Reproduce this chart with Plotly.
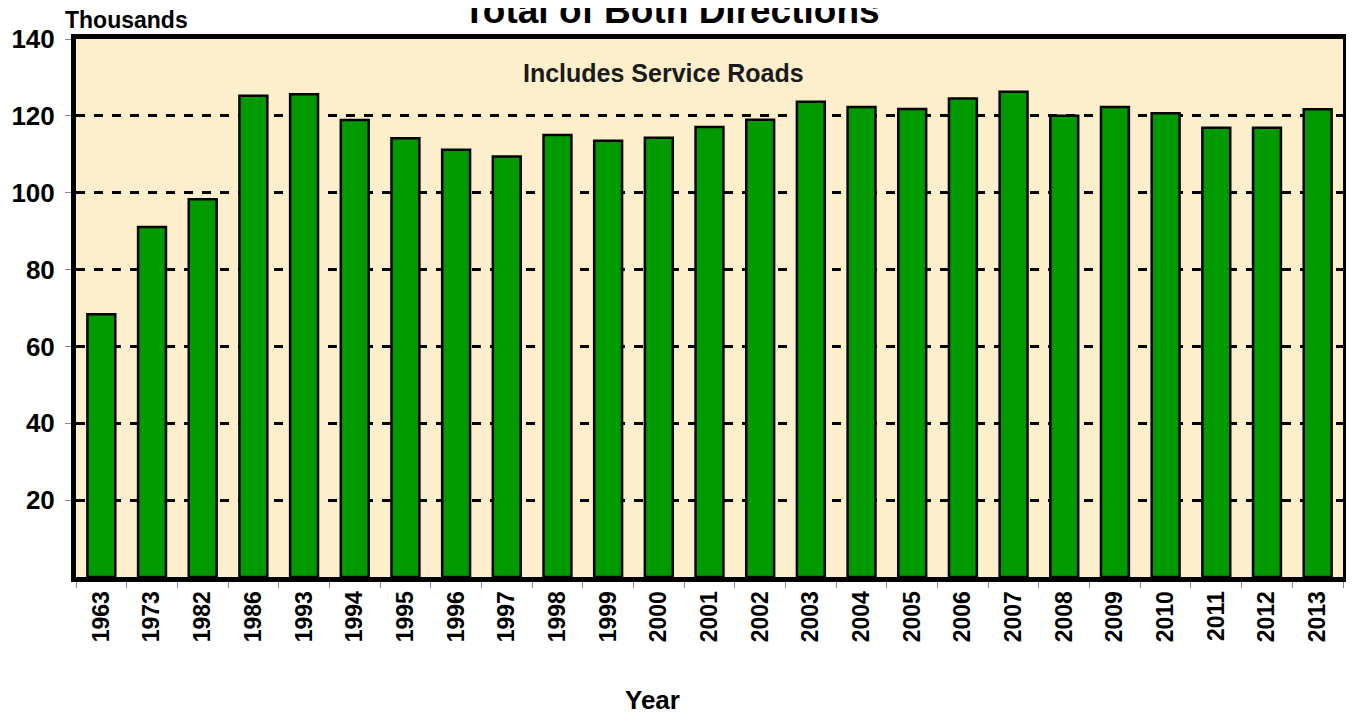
"""Total of Both Directions - traffic by year"""

import plotly.graph_objects as go

# Data
years = ["1963", "1973", "1982", "1986", "1993", "1994", "1995", "1996", "1997",
         "1998", "1999", "2000", "2001", "2002", "2003", "2004", "2005", "2006",
         "2007", "2008", "2009", "2010", "2011", "2012", "2013"]
totals = [68.4, 91.1, 98.3, 125.2, 125.6, 118.9, 114.2, 111.2, 109.4,
          115.0, 113.5, 114.3, 117.1, 119.0, 123.7, 122.3, 121.8, 124.5,
          126.3, 120.0, 122.3, 120.7, 116.9, 116.9, 121.7]
y_ticks = [20, 40, 60, 80, 100, 120, 140]

font_family = "Arial, Liberation Sans, sans-serif"

fig = go.Figure()

fig.add_trace(
    go.Bar(
        x=years,
        y=totals,
        marker=dict(color="#009900", line=dict(color="black", width=2.5)),
        hovertemplate="%{x}: %{y:.1f}<extra></extra>",
    )
)

# page body adds an 8px offset, margins compensate for it
fig.update_layout(
    width=1354,
    height=713,
    margin=dict(l=68, r=19, t=31, b=144),
    paper_bgcolor="white",
    plot_bgcolor="#FDEFCB",
    bargap=0.45,
    showlegend=False,
    font=dict(family=font_family, color="black"),
    xaxis=dict(
        type="category",
        automargin=False,
        tickangle=-90,
        tickfont=dict(size=23, family=font_family, weight="bold"),
        tickson="boundaries",
        ticks="outside",
        ticklen=6,
        tickcolor="#888888",
        showline=True,
        linecolor="black",
        linewidth=5,
        mirror=True,
        showgrid=False,
    ),
    yaxis=dict(
        range=[0, 140],
        automargin=False,
        tickvals=y_ticks,
        tickfont=dict(size=26, family=font_family, weight="bold"),
        ticklabelstandoff=5,
        ticks="outside",
        ticklen=6,
        tickcolor="#888888",
        showline=True,
        linecolor="black",
        linewidth=5,
        mirror=True,
        showgrid=True,
        gridcolor="black",
        gridwidth=2.5,
        griddash="dash",
        zeroline=False,
    ),
)

# Texts
fig.add_annotation(
    text="<b>Total of Both Directions</b>", xref="paper", yref="paper",
    x=0.47, y=1, xanchor="center", yanchor="bottom", yshift=6,
    showarrow=False, font=dict(size=37, family=font_family, color="black"),
)
fig.add_annotation(
    text="<b>Thousands</b>", xref="paper", yref="paper",
    x=0, y=1, xanchor="left", yanchor="bottom", xshift=-13, yshift=4,
    showarrow=False, font=dict(size=23, family=font_family, color="black"),
)
fig.add_annotation(
    text="<b>Includes Service Roads</b>", xref="paper", yref="paper",
    x=0.464, y=0.937, xanchor="center", yanchor="middle",
    showarrow=False, font=dict(size=25, family=font_family, color="#1a1a1a"),
)
fig.add_annotation(
    text="<b>Year</b>", xref="paper", yref="paper",
    x=0.455, y=0, xanchor="center", yanchor="middle", yshift=-123,
    showarrow=False, font=dict(size=26, family=font_family, color="black"),
)

fig.write_html("out.html")
